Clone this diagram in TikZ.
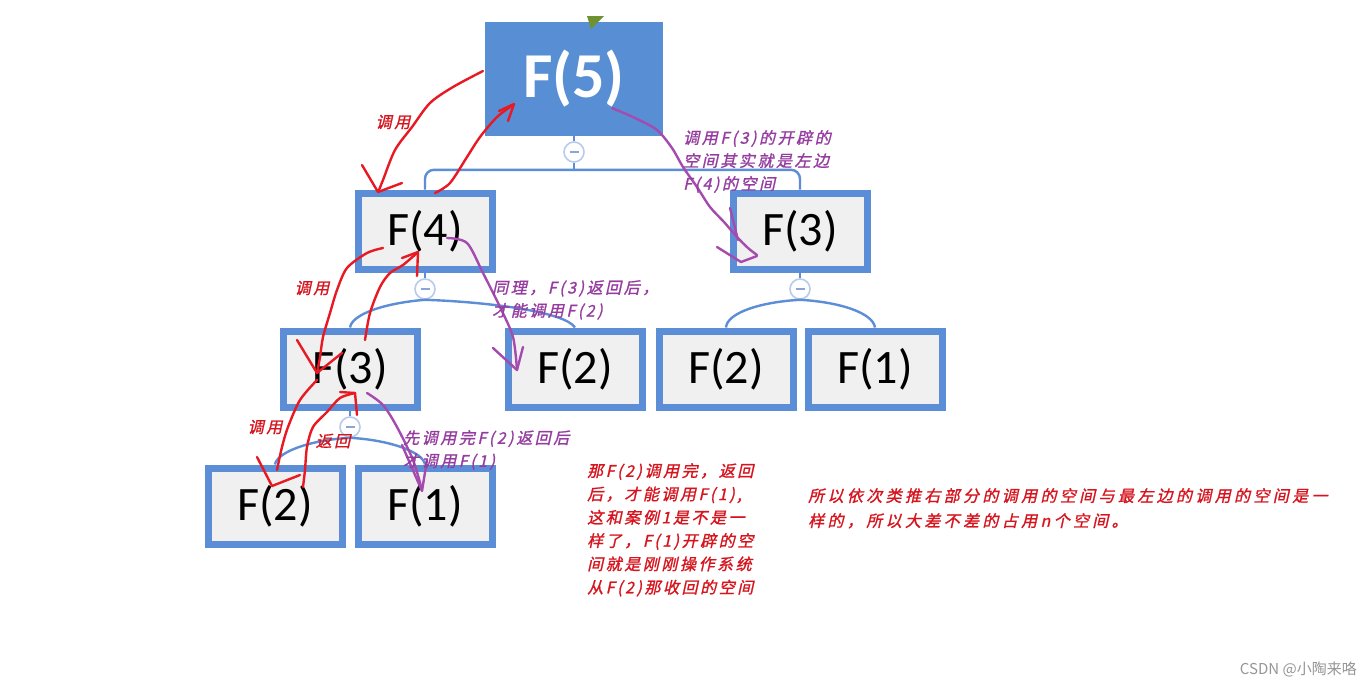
\documentclass[tikz,border=0pt]{standalone}
\usepackage{fontspec}
\setmainfont{Carlito}
\newfontfamily\annofont[FakeSlant=0.22,FakeBold=1.2,LetterSpace=16]{Noto Sans CJK SC}
\newfontfamily\annowide[FakeSlant=0.22,FakeBold=1.2,LetterSpace=21]{Noto Sans CJK SC}
\newfontfamily\wmfont{Noto Sans CJK SC}
\usetikzlibrary{calc}
\definecolor{boxblue}{RGB}{91,142,214}
\definecolor{boxfill}{RGB}{240,240,240}
\definecolor{rootfill}{RGB}{88,143,212}
\definecolor{btnring}{RGB}{185,203,236}
\definecolor{btnminus}{RGB}{140,165,215}
\definecolor{penred}{RGB}{232,25,35}
\definecolor{penpurple}{RGB}{165,75,175}
\definecolor{txtred}{RGB}{215,20,30}
\definecolor{txtpurple}{RGB}{150,60,160}
\definecolor{leafgreen}{RGB}{110,145,50}
\definecolor{wmgray}{RGB}{150,150,150}
\begin{document}
\begin{tikzpicture}[x=1pt,y=-1pt,
  fbox/.style={draw=boxblue,line width=7pt,fill=boxfill,minimum width=134pt,minimum height=76pt,inner sep=0pt,font=\fontsize{48}{50}\selectfont},
  rootbox/.style={fill=rootfill,minimum width=178pt,minimum height=114pt,inner sep=0pt,text=white,font=\fontsize{64}{66}\selectfont\bfseries},
  btn/.style={circle,draw=btnring,line width=1.6pt,fill=white,minimum size=20pt,inner sep=0pt,
    path picture={\draw[btnminus,line width=2.2pt] ($(path picture bounding box.center)+(-4.5,0)$) -- ($(path picture bounding box.center)+(4.5,0)$);}},
  conn/.style={draw=boxblue,line width=2.4pt},
  pen/.style={line width=2.4pt,line cap=round,line join=round},
  redpen/.style={pen,draw=penred},
  purplepen/.style={pen,draw=penpurple},
  redlabel/.style={text=txtred,font=\annofont\fontsize{16}{23}\selectfont,inner sep=0pt},
  purplelabel/.style={text=txtpurple,font=\annofont\fontsize{16}{23}\selectfont,inner sep=0pt,align=left},
  redblock/.style={text=txtred,font=\annofont\fontsize{16}{23.3}\selectfont,inner sep=0pt,align=left},
  redwide/.style={text=txtred,font=\annowide\fontsize{16}{25}\selectfont,inner sep=0pt,align=left}
]
\fill[white] (0,0) rectangle (1371,689);
\useasboundingbox (0,0) rectangle (1371,689);

% nodes
\node[rootbox] (f5) at (574,79) {F(5)};
\node[fbox] (f4) at (425,231) {F(4)};
\node[fbox] (f3r) at (800,231) {F(3)};
\node[fbox] (f3l) at (350,369) {F(3)};
\node[fbox] (f2m) at (575,369) {F(2)};
\node[fbox] (f2r) at (726,369) {F(2)};
\node[fbox] (f1r) at (875,369) {F(1)};
\node[fbox] (f2b) at (275,506) {F(2)};
\node[fbox] (f1b) at (425,506) {F(1)};
\node[btn] (b1) at (574,152) {};
\node[btn] (b2) at (425,289) {};
\node[btn] (b3) at (800,289) {};
\node[btn] (b4) at (350,427) {};

\fill[leafgreen] (587,16) -- (604,16) -- (591,29) -- cycle;

% connectors
\draw[conn] (f5.south) -- (b1.north);
\draw[conn] (b1.south) -- ++(0,7) coordinate (j1);
\draw[conn,rounded corners=9pt] (j1) -| (f4.north);
\draw[conn,rounded corners=9pt] (j1) -| (f3r.north);
\draw[conn] (f4.south) -- (b2.north);
\draw[conn] (f3r.south) -- (b3.north);
\draw[conn] (f3l.south) -- (b4.north);
\draw[conn] (f3l.north) .. controls (352,314) and (385,303) .. (b2.south);
\draw[conn] (b2.south) .. controls (490,302) and (565,312) .. (f2m.north);
\draw[conn] (f2r.north) .. controls (727,313) and (760,302) .. (b3.south);
\draw[conn] (b3.south) .. controls (840,302) and (873,313) .. (f1r.north);
\draw[conn] (f2b.north) .. controls (277,452) and (310,440) .. (b4.south);
\draw[conn] (b4.south) .. controls (390,440) and (423,452) .. (f1b.north);

% red hand-drawn strokes
\draw[redpen] plot[smooth] coordinates {(483,71) (453,87) (430,103) (412,127) (395,150) (383,180) (379,190)};
\draw[redpen] (362,165) -- (378,192) -- (402,183);
\draw[redpen] plot[smooth] coordinates {(435,193) (450,183) (467,157) (480,137) (497,117) (513,105)};
\draw[redpen] (499,111) -- (514,104) -- (508,121);
\draw[redpen] plot[smooth] coordinates {(383,248) (367,253) (347,268) (337,290) (330,313) (323,337) (320,357) (317,373)};
\draw[redpen] (297,340) -- (317,373) -- (342,353);
\draw[redpen] plot[smooth] coordinates {(365,340) (370,313) (380,287) (390,273) (403,265) (418,252)};
\draw[redpen] (402,258) -- (418,252) -- (417,276);
\draw[redpen] plot[smooth] coordinates {(317,380) (300,400) (288,427) (282,447) (277,470)};
\draw[redpen] (257,457) -- (272,486) -- (300,475);
\draw[redpen] plot[smooth] coordinates {(303,487) (305,470) (307,447) (313,427) (327,412) (340,398) (355,393)};
\draw[redpen] (340,392) -- (355,393) -- (357,415);

% purple strokes
\draw[purplepen] plot[smooth] coordinates {(612,108) (635,118) (657,130) (672,148) (683,167) (697,187) (710,207) (724,222) (737,237) (748,248) (757,255)};
\draw[purplepen] (717,247) -- (741,262) -- (757,256);
\draw[purplepen] (730,208) -- (738,240);
\draw[purplepen] plot[smooth] coordinates {(447,238) (467,243) (483,273) (500,307) (513,337) (517,370)};
\draw[purplepen] (493,348) -- (517,370) -- (523,347);
\draw[purplepen] plot[smooth] coordinates {(367,393) (383,405) (397,427) (413,460) (422,490)};
\draw[purplepen] (402,445) -- (422,491) -- (427,460);

% labels
\node[redlabel] (l1) at (393,122) {调用};
\node[redlabel] (l2) at (312,288) {调用};
\node[redlabel] (l3) at (265,427) {调用};
\node[redlabel] (l4) at (333,441) {返回};
\node[purplelabel,anchor=north west] (p1) at (683,130) {调用F(3)的开辟的\\空间其实就是左边\\F(4)的空间};
\node[purplelabel,anchor=north west] (p2) at (492,280) {同理，F(3)返回后，\\才能调用F(2)};
\node[purplelabel,anchor=north west] (p3) at (403,430) {先调用完F(2)返回后\\才调用F(1)};
\node[redblock,anchor=north west] (t1) at (587,463) {那F(2)调用完，返回\\后，才能调用F(1),\\这和案例1是不是一\\样了，F(1)开辟的空\\间就是刚刚操作系统\\从F(2)那收回的空间};
\node[redwide,anchor=north west] (t2) at (808,488) {所以依次类推右部分的调用的空间与最左边的调用的空间是一\\样的，所以大差不差的占用n个空间。};
\node[text=wmgray,font=\wmfont\fontsize{15}{15}\selectfont,anchor=east,inner sep=0pt] (wm) at (1357,669) {CSDN @小陶来咯};
\end{tikzpicture}
\end{document}
